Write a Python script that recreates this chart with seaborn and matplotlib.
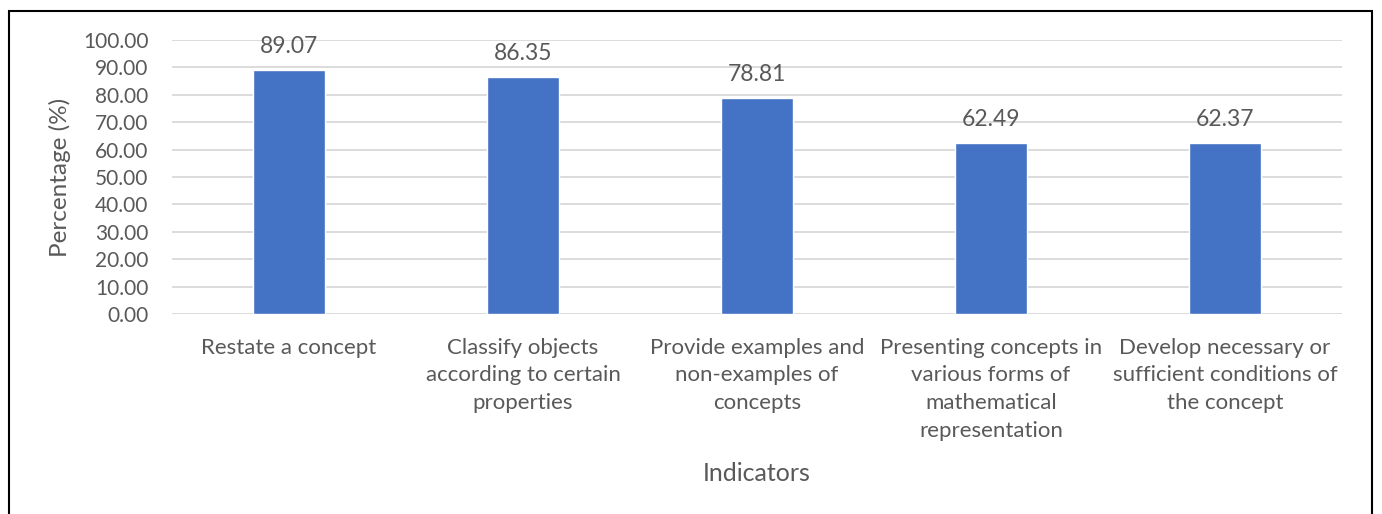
import matplotlib
matplotlib.use("Agg")
import matplotlib.pyplot as plt
import seaborn as sns
import pandas as pd
from matplotlib.patches import Rectangle

categories = [
    "Restate a concept",
    "Classify objects\naccording to certain\nproperties",
    "Provide examples and\nnon-examples of\nconcepts",
    "Presenting concepts in\nvarious forms of\nmathematical\nrepresentation",
    "Develop necessary or\nsufficient conditions of\nthe concept",
]
values = [89.07, 86.35, 78.81, 62.49, 62.37]
yticks = [0, 10, 20, 30, 40, 50, 60, 70, 80, 90, 100]

sns.set_theme(style="white")
plt.rcParams['font.family'] = ['Lato', 'DejaVu Sans']
txt = "#595959"

fig = plt.figure(figsize=(13.82, 5.14), dpi=100)
ax = fig.add_axes([172/1382, 1-314/514, 1170/1382, 274/514])

df = pd.DataFrame({"Indicator": categories, "Percentage": values})
sns.barplot(data=df, x="Indicator", y="Percentage", color="#4472C4", width=0.31,
            saturation=1, ax=ax, zorder=3)

ax.set_ylim(0, 100)
ax.set_xlim(-0.5, 4.5)
ax.set_yticks(yticks)
ax.set_yticklabels([f"{v:.2f}" for v in yticks], fontsize=15, color=txt)
ax.tick_params(axis='x', labelsize=16, labelcolor=txt, length=0, pad=17)
ax.tick_params(axis='y', length=0, pad=17)
for lab in ax.get_xticklabels():
    lab.set_linespacing(1.48)
    lab.set_verticalalignment('top')
ax.yaxis.grid(True, color="#D9D9D9", linewidth=1.3, zorder=0)
ax.xaxis.grid(False)
for s in ax.spines.values():
    s.set_visible(False)

for c in ax.containers:
    ax.bar_label(c, labels=[f"{v:.2f}" for v in values], padding=9.5, fontsize=16.5, color=txt)

ax.set_ylabel("Percentage (%)", fontsize=17.5, color=txt)
ax.yaxis.set_label_coords(-0.086, 0.5)
ax.set_xlabel("Indicators", fontsize=18, color=txt)
ax.xaxis.set_label_coords(0.5, -0.54)

fig.patches.append(Rectangle((9/1382, -0.05), 1363/1382, 1.05 - 11/514,
                             transform=fig.transFigure, fill=False,
                             edgecolor="black", linewidth=1.5, zorder=10))

fig.savefig("out.png", dpi=100)
